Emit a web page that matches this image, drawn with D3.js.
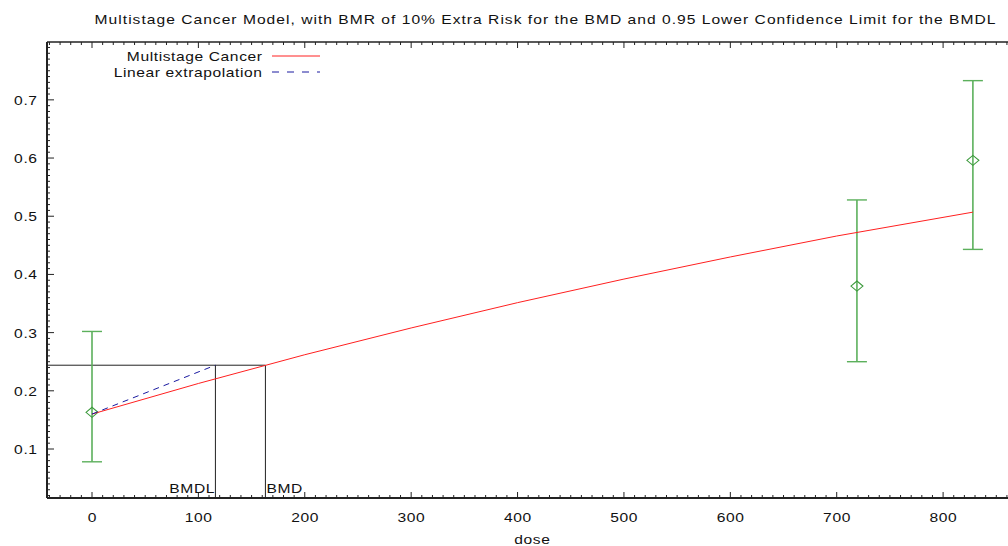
<!DOCTYPE html>
<html><head><meta charset="utf-8">
<script src="https://cdn.jsdelivr.net/npm/d3@7"></script>
<style>body{margin:0;background:#fff}svg{display:block;font-family:"Liberation Sans",Arial,sans-serif}text{fill:#111}</style>
</head><body><svg id="c" width="1008" height="546"></svg>
<script>
const doses = [0, 719, 828];
const means = [0.163, 0.380, 0.596];
const lowers = [0.078, 0.250, 0.443];
const uppers = [0.302, 0.528, 0.733];
const fitDose = [0, 100, 200, 300, 400, 500, 600, 700, 828];
const fitResp = [0.160, 0.2126, 0.262, 0.3080, 0.3515, 0.392, 0.430, 0.466, 0.507];
const bmr = 0.244, bmd = 163, bmdl = 116;
const linDose = [0, bmdl];
const linResp = [0.160, bmr];
const xTicks = [0, 100, 200, 300, 400, 500, 600, 700, 800];
const yTicks = [0.1, 0.2, 0.3, 0.4, 0.5, 0.6, 0.7];

const svg = d3.select("#c");
const L = 47, R = 1008, T = 42, B = 498;
const x = d3.scaleLinear().domain([-42.3, 861]).range([L, R]);
const y = d3.scaleLinear().domain([0.0158, 0.7994]).range([B, T]);
const SX = 1.2;

function label(px, py, str, anchor, ls) {
  ls = ls === undefined ? 0.5 : ls;
  const shift = anchor === "end" ? ls * SX : anchor === "middle" ? ls * SX / 2 : 0;
  return svg.append("text")
    .attr("transform", `translate(${px + shift},${py}) scale(${SX},1)`)
    .attr("text-anchor", anchor).attr("font-size", 13).attr("letter-spacing", ls).text(str);
}

label(545, 24, "Multistage Cancer Model, with BMR of 10% Extra Risk for the BMD and 0.95 Lower Confidence Limit for the BMDL", "middle", 0.85);

// axes
const axc = "#222";
const minorX = d3.range(-40, 861, 10).filter(v => v % 100 !== 0);
const minorY = d3.range(2, 80, 1).map(v => v / 100).filter(v => Math.round(v * 100) % 10 !== 0);
const g = svg.append("g");
g.append("line").attr("x1", L).attr("x2", R).attr("y1", B).attr("y2", B).attr("stroke", axc).attr("stroke-width", 2);
g.append("line").attr("x1", L).attr("x2", R).attr("y1", T).attr("y2", T).attr("stroke", axc).attr("stroke-width", 1.5);
g.append("line").attr("x1", L).attr("x2", L).attr("y1", T).attr("y2", B).attr("stroke", axc).attr("stroke-width", 2);
xTicks.forEach(v => {
  g.append("line").attr("x1", x(v)).attr("x2", x(v)).attr("y1", B).attr("y2", B - 6).attr("stroke", axc);
  g.append("line").attr("x1", x(v)).attr("x2", x(v)).attr("y1", T).attr("y2", T + 6).attr("stroke", axc);
  label(x(v), 522, d3.format("d")(v), "middle");
});
minorX.forEach(v => {
  g.append("line").attr("x1", x(v)).attr("x2", x(v)).attr("y1", B).attr("y2", B - 3).attr("stroke", axc);
  g.append("line").attr("x1", x(v)).attr("x2", x(v)).attr("y1", T).attr("y2", T + 3).attr("stroke", axc);
});
yTicks.forEach(v => {
  g.append("line").attr("x1", L).attr("x2", L + 7).attr("y1", y(v)).attr("y2", y(v)).attr("stroke", axc);
  label(37, y(v) + 5, d3.format(".1f")(v), "end");
});
minorY.forEach(v => {
  g.append("line").attr("x1", L).attr("x2", L + 3).attr("y1", y(v)).attr("y2", y(v)).attr("stroke", axc);
});
label(532, 544, "dose", "middle");

// BMD lines
const bl = "#222";
svg.append("line").attr("x1", L).attr("x2", x(bmd)).attr("y1", y(bmr)).attr("y2", y(bmr)).attr("stroke", bl);
svg.append("line").attr("x1", x(bmd)).attr("x2", x(bmd)).attr("y1", y(bmr)).attr("y2", B).attr("stroke", bl);
svg.append("line").attr("x1", x(bmdl)).attr("x2", x(bmdl)).attr("y1", y(bmr)).attr("y2", B).attr("stroke", bl);
label(x(bmdl) - 1, 493, "BMDL", "end");
label(x(bmd) + 1, 493, "BMD", "start");

// error bars
const gc = "#3c9a3c";
doses.forEach((d, i) => {
  svg.append("line").attr("x1", x(d)).attr("x2", x(d)).attr("y1", y(lowers[i])).attr("y2", y(uppers[i])).attr("stroke", "#5cb05c").attr("stroke-width", 1.6);
  [lowers[i], uppers[i]].forEach(v => svg.append("line").attr("x1", x(d) - 10).attr("x2", x(d) + 10).attr("y1", y(v)).attr("y2", y(v)).attr("stroke", "#5cb05c").attr("stroke-width", 1.4));
  const cx = x(d), cy = y(means[i]);
  svg.append("path").attr("d", `M${cx - 6},${cy}L${cx},${cy - 5}L${cx + 6},${cy}L${cx},${cy + 5}Z`).attr("fill", "none").attr("stroke", gc).attr("stroke-width", 1.1);
});

// fit line
const line = d3.line().x(d => x(d[0])).y(d => y(d[1]));
svg.append("path").attr("d", line(fitDose.map((d, i) => [d, fitResp[i]]))).attr("fill", "none").attr("stroke", "#ff2020").attr("stroke-width", 1);
svg.append("path").attr("d", line(linDose.map((d, i) => [d, linResp[i]]))).attr("fill", "none").attr("stroke", "#1a1aa0").attr("stroke-width", 1).attr("stroke-dasharray", "6,5");

// legend
label(262, 61, "Multistage Cancer", "end");
svg.append("line").attr("x1", 272).attr("x2", 320).attr("y1", 56).attr("y2", 56).attr("stroke", "#ff2020");
label(262, 77, "Linear extrapolation", "end");
svg.append("line").attr("x1", 272).attr("x2", 320).attr("y1", 72).attr("y2", 72).attr("stroke", "#1a1aa0").attr("stroke-dasharray", "7,8");
</script></body></html>
